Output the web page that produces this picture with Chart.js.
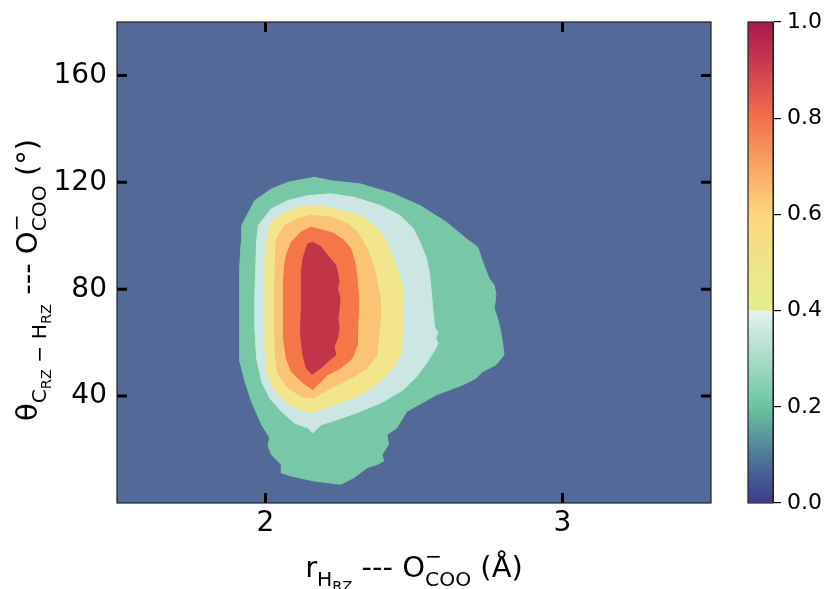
<!DOCTYPE html>
<html>
<head>
<meta charset="utf-8">
<script src="https://cdn.jsdelivr.net/npm/chart.js@4.4.1/dist/chart.umd.min.js"></script>
<style>
  html, body { margin: 0; padding: 0; background: #fff; }
  #wrap { position: relative; width: 826px; height: 589px; }
  #main { position: absolute; left: 0; top: 0; }
  #cbar { position: absolute; left: 730px; top: 0; }
</style>
</head>
<body>
<div id="wrap">
  <canvas id="main" width="826" height="589"></canvas>
  <canvas id="cbar" width="96" height="589"></canvas>
</div>
<script>
// axis ranges and tick values
const xRange = [1.5, 3.5];
const yRange = [0, 180];
const xTicks = [2, 3];
const yTicks = [40, 80, 120, 160];
const cbTicks = [0, 0.2, 0.4, 0.6, 0.8, 1.0];

// filled contour bands (r in Å, theta in deg), outermost first
const bandBase = [[1.5, 0], [3.5, 0], [3.5, 180], [1.5, 180]];
const band1 = [
  [1.920, 103.9], [1.964, 113.2], [2.020, 117.5], [2.076, 120.0], [2.164, 121.9],
  [2.220, 120.6], [2.320, 119.4], [2.431, 115.7], [2.520, 111.3], [2.609, 105.1],
  [2.676, 98.9], [2.714, 95.8], [2.731, 90.2], [2.753, 84.0], [2.770, 81.5],
  [2.776, 77.8], [2.770, 72.8], [2.781, 69.1], [2.792, 64.1], [2.798, 59.8],
  [2.803, 55.4], [2.776, 51.7], [2.731, 49.2], [2.709, 46.7], [2.664, 44.2],
  [2.576, 40.5], [2.476, 34.3], [2.442, 28.1], [2.409, 25.6], [2.414, 21.9],
  [2.392, 18.1], [2.398, 15.7], [2.376, 14.4], [2.342, 13.2], [2.298, 9.5],
  [2.253, 7.0], [2.164, 8.2], [2.087, 10.1], [2.053, 11.3], [2.053, 14.4],
  [2.020, 18.1], [2.009, 21.3], [2.014, 24.4], [1.987, 29.3], [1.953, 38.0],
  [1.931, 45.5], [1.914, 52.9], [1.911, 62.9], [1.914, 75.3], [1.914, 87.7],
  [1.918, 97.6]
];
const band2 = [
  [1.970, 97.6], [1.976, 103.9], [2.020, 110.1], [2.076, 113.2], [2.142, 115.0],
  [2.220, 115.7], [2.298, 114.4], [2.387, 111.3], [2.453, 107.6], [2.498, 102.6],
  [2.520, 97.6], [2.542, 91.4], [2.553, 85.2], [2.559, 77.8], [2.564, 71.6],
  [2.570, 65.4], [2.581, 64.1], [2.573, 61.6], [2.581, 59.8], [2.570, 57.3],
  [2.542, 52.3], [2.509, 47.3], [2.464, 42.4], [2.398, 38.0], [2.320, 34.3],
  [2.242, 31.2], [2.187, 29.3], [2.159, 26.2], [2.144, 28.1], [2.098, 29.9],
  [2.053, 34.3], [2.014, 39.3], [1.987, 45.5], [1.970, 54.2], [1.964, 65.4],
  [1.964, 77.8], [1.967, 87.7]
];
const band3 = [
  [2.000, 97.6], [2.020, 105.1], [2.064, 108.8], [2.131, 111.3], [2.187, 111.3],
  [2.253, 109.5], [2.320, 107.6], [2.376, 102.6], [2.409, 97.6], [2.431, 91.4],
  [2.448, 85.2], [2.459, 81.5], [2.462, 75.3], [2.462, 62.9], [2.453, 55.4],
  [2.431, 50.5], [2.387, 45.5], [2.320, 40.5], [2.231, 36.8], [2.159, 33.7],
  [2.120, 34.9], [2.064, 38.0], [2.026, 43.0], [2.003, 49.2], [1.998, 60.4],
  [1.998, 72.8], [1.998, 87.7]
];
const band4 = [
  [2.033, 90.2], [2.037, 98.9], [2.064, 103.9], [2.109, 106.4], [2.153, 107.6],
  [2.220, 107.0], [2.276, 104.5], [2.309, 101.4], [2.342, 95.2], [2.364, 89.0],
  [2.376, 82.7], [2.387, 76.6], [2.387, 69.1], [2.381, 62.9], [2.376, 55.4],
  [2.342, 50.5], [2.287, 46.7], [2.220, 43.0], [2.159, 39.3], [2.120, 39.9],
  [2.070, 43.6], [2.042, 48.6], [2.033, 55.4], [2.031, 66.6], [2.031, 79.0]
];
const band5 = [
  [2.064, 89.0], [2.070, 92.7], [2.087, 97.6], [2.120, 101.4], [2.153, 103.2],
  [2.198, 102.0], [2.231, 100.8], [2.264, 98.3], [2.287, 95.2], [2.303, 89.0],
  [2.309, 82.7], [2.314, 75.3], [2.311, 67.8], [2.309, 59.1], [2.292, 54.2],
  [2.253, 50.5], [2.209, 48.0], [2.159, 42.4], [2.120, 45.5], [2.087, 49.2],
  [2.070, 54.2], [2.059, 62.9], [2.059, 72.8], [2.062, 82.7]
];
const band6 = [
  [2.122, 87.7], [2.126, 91.4], [2.142, 97.0], [2.159, 97.6], [2.187, 95.8],
  [2.209, 92.7], [2.237, 89.0], [2.242, 86.5], [2.248, 82.7], [2.242, 80.3],
  [2.251, 76.5], [2.248, 72.8], [2.244, 69.1], [2.248, 65.4], [2.242, 61.6],
  [2.231, 58.5], [2.237, 55.4], [2.209, 52.9], [2.187, 50.5], [2.156, 48.2],
  [2.137, 50.5], [2.126, 55.4], [2.118, 62.9], [2.120, 71.6], [2.120, 81.5]
];
const bandColors = ['#536997', '#78c8a8', '#cce6e3', '#f2e58b', '#fbc374', '#f47649', '#c23447'];

// colour bar
const cbStops = [0, 0.1, 0.2, 0.3, 0.399, 0.401, 0.5, 0.6, 0.7, 0.8, 0.9, 1.0];
const cbColors = ['#3c3a8c', '#4f7a9a', '#6ac49e', '#a8dcc8', '#e6f1f2', '#e3ef8a',
                  '#eee488', '#fdd67e', '#f8a563', '#f4704a', '#d13f50', '#a8194a'];

// axis titles: [text, role]
const xTitle = [['r', 'n'], ['H', 'sub'], ['RZ', 'sub2'], [' --- O', 'n'], ['\u2212', 'sup'], ['COO', 'sub'], [' (Å)', 'n']];
const yTitle = [['θ', 'n'], ['C', 'sub'], ['RZ', 'sub2'], [' \u2212 ', 'sub'], ['H', 'sub'], ['RZ', 'sub2'],
                [' --- O', 'n'], ['\u2212', 'sup'], ['COO', 'sub'], [' (°)', 'n']];

const FONT = 'DejaVu Sans';
const roles = {
  n:    { k: 1,   dy: 0,     move: true },
  sub:  { k: 0.7, dy: 0.3,   move: true },
  sub2: { k: 0.5, dy: 0.48,  move: true },
  sup:  { k: 0.7, dy: -0.49, move: false },
};

function drawRich(ctx, parts, size, cx, cy) {
  let w = 0;
  parts.forEach(([t, r]) => {
    ctx.font = `${size * roles[r].k}px '${FONT}'`;
    if (roles[r].move) w += ctx.measureText(t).width;
  });
  let x = cx - w / 2;
  ctx.textAlign = 'left';
  ctx.textBaseline = 'alphabetic';
  ctx.fillStyle = '#000';
  parts.forEach(([t, r]) => {
    const s = roles[r];
    ctx.font = `${size * s.k}px '${FONT}'`;
    ctx.fillText(t, x, cy + s.dy * size);
    if (s.move) x += ctx.measureText(t).width;
  });
}

const frameTicks = {
  id: 'frameTicks',
  afterDatasetsDraw(chart) {
    const { ctx, chartArea: a, scales: { x, y } } = chart;
    ctx.save();
    ctx.strokeStyle = '#000';
    ctx.lineWidth = 3;
    ctx.beginPath();
    xTicks.forEach(v => {
      const px = x.getPixelForValue(v);
      ctx.moveTo(px, a.bottom); ctx.lineTo(px, a.bottom - 10);
      ctx.moveTo(px, a.top); ctx.lineTo(px, a.top + 10);
    });
    yTicks.forEach(v => {
      const py = y.getPixelForValue(v);
      ctx.moveTo(a.left, py); ctx.lineTo(a.left + 10, py);
      ctx.moveTo(a.right, py); ctx.lineTo(a.right - 10, py);
    });
    ctx.stroke();
    ctx.lineWidth = 1.2;
    ctx.strokeStyle = '#222';
    ctx.strokeRect(a.left, a.top, a.right - a.left, a.bottom - a.top);
    ctx.restore();
  },
  afterDraw(chart) {
    const { ctx, chartArea: a } = chart;
    ctx.save();
    drawRich(ctx, xTitle, 29, (a.left + a.right) / 2, 577);
    ctx.translate(37, 280);
    ctx.rotate(-Math.PI / 2);
    drawRich(ctx, yTitle, 29, 0, 0);
    ctx.restore();
  }
};

const bands = [bandBase, band1, band2, band3, band4, band5, band6];
const datasets = bands.map((pts, i) => ({
  data: pts.concat([pts[0]]).map(([x, y]) => ({ x, y })),
  showLine: true,
  fill: 'shape',
  backgroundColor: bandColors[i],
  borderColor: bandColors[i],
  borderWidth: 1,
  pointRadius: 0,
  tension: 0,
  order: bands.length - i,
}));

const tickFont = { family: FONT, size: 28 };

new Chart(document.getElementById('main'), {
  type: 'scatter',
  data: { datasets },
  options: {
    responsive: false,
    animation: false,
    layout: { padding: { left: 0, right: 115, top: 22, bottom: 0 } },
    plugins: { legend: { display: false }, tooltip: { enabled: false } },
    scales: {
      x: {
        type: 'linear', min: xRange[0], max: xRange[1],
        grid: { display: false, drawTicks: false },
        border: { display: false },
        ticks: { font: tickFont, color: '#000', padding: 4 },
        afterBuildTicks: s => { s.ticks = xTicks.map(v => ({ value: v })); },
        afterFit: s => { s.height = 86; s.paddingLeft = 0; s.paddingRight = 0; },
      },
      y: {
        type: 'linear', min: yRange[0], max: yRange[1],
        grid: { display: false, drawTicks: false },
        border: { display: false },
        ticks: { font: tickFont, color: '#000', padding: 10 },
        afterBuildTicks: s => { s.ticks = yTicks.map(v => ({ value: v })); },
        afterFit: s => { s.width = 117; s.paddingTop = 0; s.paddingBottom = 0; },
      },
    },
  },
  plugins: [frameTicks],
});

const cbFrame = {
  id: 'cbFrame',
  afterDraw(chart) {
    const { ctx, chartArea: a } = chart;
    ctx.save();
    ctx.lineWidth = 1.2;
    ctx.strokeStyle = '#222';
    ctx.strokeRect(a.left, a.top, a.right - a.left, a.bottom - a.top);
    ctx.restore();
  }
};

new Chart(document.getElementById('cbar'), {
  type: 'bar',
  data: {
    labels: [''],
    datasets: [{
      data: [[cbTicks[0], cbTicks[cbTicks.length - 1]]],
      backgroundColor: c => {
        const a = c.chart.chartArea;
        if (!a) return cbColors[0];
        const g = c.chart.ctx.createLinearGradient(0, a.bottom, 0, a.top);
        cbStops.forEach((s, i) => g.addColorStop(s, cbColors[i]));
        return g;
      },
      borderWidth: 0,
      barPercentage: 1,
      categoryPercentage: 1,
    }],
  },
  options: {
    responsive: false,
    animation: false,
    layout: { padding: { left: 18, right: 0, top: 22, bottom: 86 } },
    plugins: { legend: { display: false }, tooltip: { enabled: false } },
    scales: {
      x: { display: false },
      y: {
        position: 'right', min: 0, max: 1,
        afterBuildTicks: s => { s.ticks = cbTicks.map(v => ({ value: v })); },
        afterFit: s => { s.width = 53; s.paddingTop = 0; s.paddingBottom = 0; },
        ticks: { callback: v => Number(v).toFixed(1), font: { family: FONT, size: 22 }, color: '#000', padding: 6 },
        grid: { drawOnChartArea: false, drawTicks: true, tickLength: 8, color: '#000', lineWidth: 1.2 },
        border: { display: true, color: '#222', width: 1 },
      },
    },
  },
  plugins: [cbFrame],
});
</script>
</body>
</html>
